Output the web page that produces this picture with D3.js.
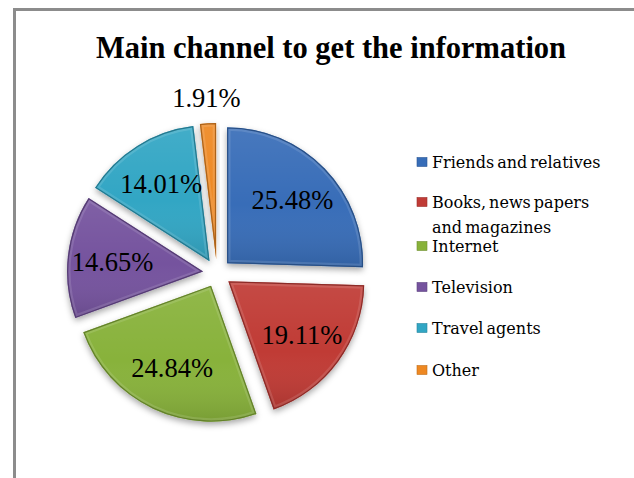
<!DOCTYPE html>
<html>
<head>
<meta charset="utf-8">
<script src="https://cdn.jsdelivr.net/npm/d3@7"></script>
<style>
  html, body { margin: 0; padding: 0; background: #fff; }
  svg { display: block; }
</style>
</head>
<body>
<svg id="chart" width="634" height="478"></svg>
<script>
// Survey shares (%) for the main channel used to get travel information
const categories = ["Friends and relatives", "Books, news papers and magazines", "Internet", "Television", "Travel agents", "Other"];
const legendLines = [["Friends and relatives"], ["Books, news papers", "and magazines"], ["Internet"], ["Television"], ["Travel agents"], ["Other"]];
const shares = [25.48, 19.11, 24.84, 14.65, 14.01, 1.91];
const colors = ["#376DB8", "#C03B36", "#88B23A", "#75539E", "#31A6C4", "#EE8822"];
const title = "Main channel to get the information";

const W = 634, H = 478;
const serif = "'Liberation Serif', 'Times New Roman', serif";
const svg = d3.select("#chart");
const defs = svg.append("defs");

// frame
svg.append("rect")
  .attr("x", 14.5).attr("y", 9.5)
  .attr("width", W + 20).attr("height", H + 20)
  .attr("fill", "#fff").attr("stroke", "#8c8c8c").attr("stroke-width", 3);

// title
svg.append("text")
  .attr("x", 331).attr("y", 58)
  .attr("text-anchor", "middle")
  .style("font-family", serif)
  .style("font-weight", "bold")
  .style("font-size", "30.5px")
  .attr("fill", "#000")
  .text(title);

// pie
const cx = 217, cy = 273, r = 136, explode = 14;
const pie = d3.pie().sort(null).value(d => d)(shares);
const arc = d3.arc().innerRadius(0).outerRadius(r);
const labelArc = d3.arc().innerRadius(r * 0.67).outerRadius(r * 0.67);
const outerLabelArc = d3.arc().innerRadius(r + 26).outerRadius(r + 26);

// soft drop shadow under the slices
const shadow = defs.append("filter").attr("id", "shadow")
  .attr("x", "-20%").attr("y", "-20%").attr("width", "140%").attr("height", "140%");
shadow.append("feDropShadow")
  .attr("dx", 0).attr("dy", 3).attr("stdDeviation", 3)
  .attr("flood-color", "#000").attr("flood-opacity", 0.35);

// vertical light-to-dark sheen shared by all slices
const sheen = defs.append("linearGradient").attr("id", "sheen")
  .attr("x1", 0).attr("y1", 0).attr("x2", 0).attr("y2", 1);
sheen.append("stop").attr("offset", "0%").attr("stop-color", "#fff").attr("stop-opacity", 0.08);
sheen.append("stop").attr("offset", "55%").attr("stop-color", "#fff").attr("stop-opacity", 0);
sheen.append("stop").attr("offset", "100%").attr("stop-color", "#000").attr("stop-opacity", 0.12);

const g = svg.append("g").attr("transform", `translate(${cx},${cy})`);

const slices = g.selectAll("g.slice").data(pie).enter().append("g")
  .attr("class", "slice")
  .attr("transform", d => {
    const a = (d.startAngle + d.endAngle) / 2;
    return `translate(${Math.sin(a) * explode},${-Math.cos(a) * explode})`;
  });

slices.each(function (d, i) {
  const s = d3.select(this);
  const clipId = "clip" + i;
  defs.append("clipPath").attr("id", clipId).append("path").attr("d", arc(d));
  s.append("path").attr("d", arc(d)).attr("fill", colors[i]).attr("filter", "url(#shadow)");
  s.append("path").attr("d", arc(d)).attr("fill", "url(#sheen)");
  // bevelled rim: soft inner highlight and a darker outer edge
  s.append("path").attr("d", arc(d)).attr("clip-path", `url(#${clipId})`)
    .attr("fill", "none").attr("stroke", "#fff").attr("stroke-opacity", 0.12).attr("stroke-width", 7);
  s.append("path").attr("d", arc(d)).attr("clip-path", `url(#${clipId})`)
    .attr("fill", "none").attr("stroke", d3.color(colors[i]).darker(0.9)).attr("stroke-width", 2.5);
});

// value labels
slices.append("text")
  .attr("transform", d => {
    const p = d.data < 5 ? outerLabelArc.centroid(d) : labelArc.centroid(d);
    return `translate(${p[0]},${p[1]})`;
  })
  .attr("text-anchor", "middle")
  .attr("dy", "0.35em")
  .style("font-family", serif)
  .style("font-size", "26.5px")
  .attr("fill", "#000")
  .text(d => d.data.toFixed(2) + "%");

// legend
const legendY = [162, 202, 246, 287, 328, 370];
const legend = svg.append("g");
categories.forEach((c, i) => {
  const row = legend.append("g").attr("transform", `translate(417,${legendY[i]})`);
  row.append("rect").attr("x", 0).attr("y", -4.5).attr("width", 10).attr("height", 9)
    .attr("fill", colors[i]).attr("stroke", d3.color(colors[i]).darker(0.6)).attr("stroke-width", 0.6);
  legendLines[i].forEach((line, j) => {
    row.append("text")
      .attr("x", 15).attr("y", j * 25)
      .attr("dy", "0.35em")
      .style("font-family", "'DejaVu Serif', serif")
      .style("font-size", "16px")
      .style("word-spacing", "-2px")
      .attr("fill", "#000")
      .text(line);
  });
});
</script>
</body>
</html>
